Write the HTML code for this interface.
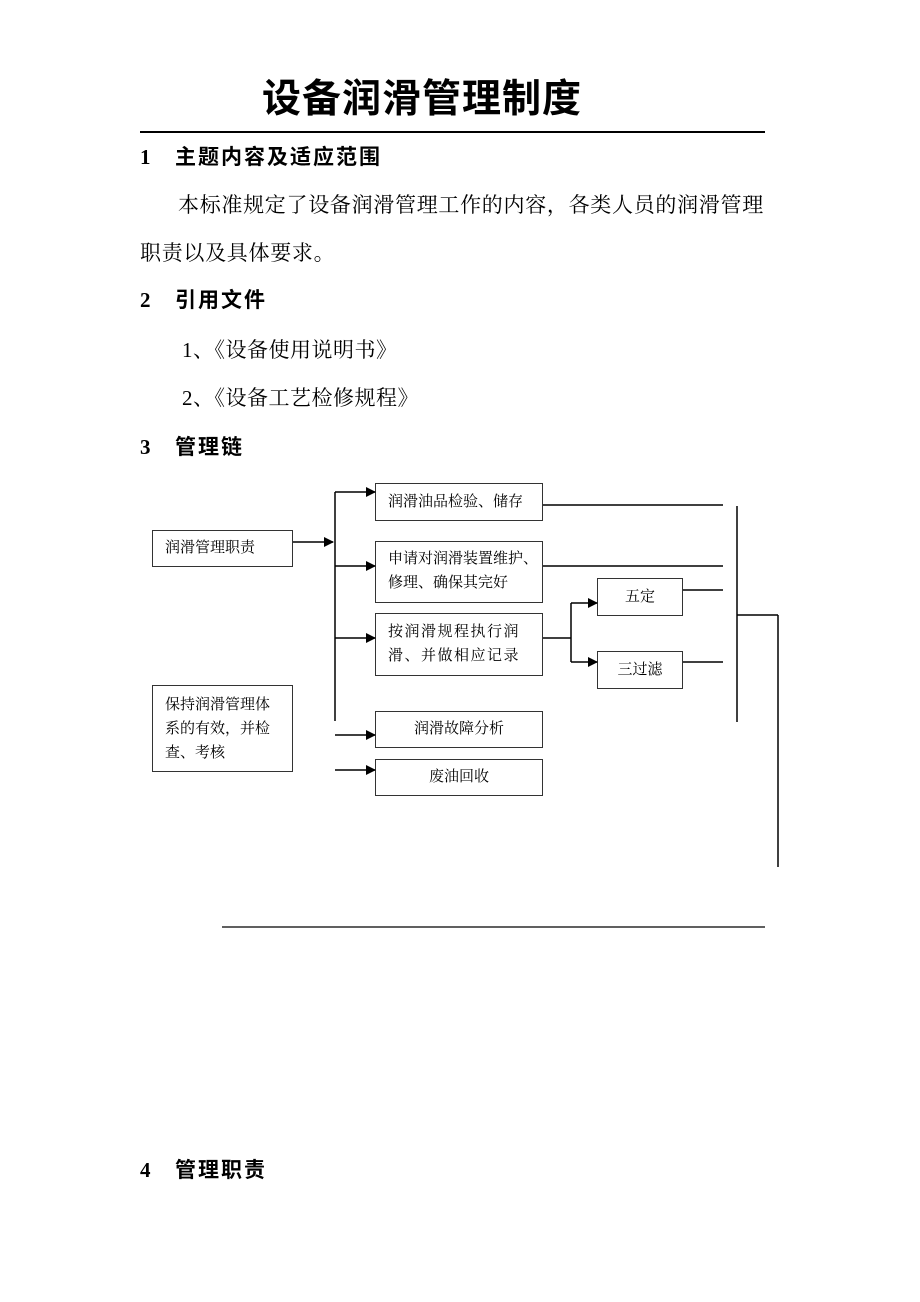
<!DOCTYPE html>
<html><head><meta charset="utf-8"><style>
body{margin:0;width:920px;height:1302px;background:#fff;position:relative;font-family:"Liberation Serif","Noto Serif CJK SC",serif;color:#000}
.t{position:absolute;white-space:nowrap;line-height:1}
.h{font-family:"Liberation Serif","Noto Sans CJK SC",sans-serif;font-weight:bold;font-size:21px;letter-spacing:2px}
.p{font-size:21px;letter-spacing:0.7px}
.b{position:absolute;border:1.3px solid #333;box-sizing:border-box;font-size:15px;line-height:24px;padding:0 12px;white-space:nowrap}
svg{position:absolute;left:0;top:0}
</style></head><body>
<div class="t" style="left:262px;top:77px;font-size:39px;font-weight:bold;letter-spacing:1px;font-family:'Noto Sans CJK SC',sans-serif">设备润滑管理制度</div>
<div style="position:absolute;left:140px;top:131px;width:625px;height:2px;background:#000"></div>
<div class="t h" style="left:140px;top:147px"><span style="display:inline-block;width:35px">1</span>主题内容及适应范围</div>
<div class="t p" style="left:178px;top:195px">本标准规定了设备润滑管理工作的内容，各类人员的润滑管理</div>
<div class="t p" style="left:140px;top:243px">职责以及具体要求。</div>
<div class="t h" style="left:140px;top:290px"><span style="display:inline-block;width:35px">2</span>引用文件</div>
<div class="t p" style="left:182px;top:340px;letter-spacing:0.5px">1、《设备使用说明书》</div>
<div class="t p" style="left:182px;top:388px;letter-spacing:0.5px">2、《设备工艺检修规程》</div>
<div class="t h" style="left:140px;top:437px"><span style="display:inline-block;width:35px">3</span>管理链</div>

<div class="b" style="left:375px;top:483px;width:168px;height:38px;line-height:36px">润滑油品检验、储存</div>
<div class="b" style="left:152px;top:530px;width:141px;height:37px;line-height:35px">润滑管理职责</div>
<div class="b" style="left:375px;top:541px;width:168px;height:62px;padding-top:5px">申请对润滑装置维护、<br>修理、确保其完好</div>
<div class="b" style="left:597px;top:578px;width:86px;height:38px;line-height:36px;text-align:center;padding:0">五定</div>
<div class="b" style="left:375px;top:613px;width:168px;height:63px;padding-top:6px;letter-spacing:1.5px">按润滑规程执行润<br>滑、并做相应记录</div>
<div class="b" style="left:597px;top:651px;width:86px;height:38px;line-height:36px;text-align:center;padding:0">三过滤</div>
<div class="b" style="left:152px;top:685px;width:141px;height:87px;padding-top:7px">保持润滑管理体<br>系的有效，并检<br>查、考核</div>
<div class="b" style="left:375px;top:711px;width:168px;height:37px;line-height:35px;text-align:center">润滑故障分析</div>
<div class="b" style="left:375px;top:759px;width:168px;height:37px;line-height:35px;text-align:center">废油回收</div>

<svg width="920" height="1302">
<defs><marker id="a" markerWidth="10" markerHeight="10" refX="9" refY="5" orient="auto" markerUnits="userSpaceOnUse"><path d="M0,0L10,5L0,10z" fill="#000"/></marker></defs>
<g stroke="#000" stroke-width="1.5" fill="none">
<line x1="293" y1="542" x2="333" y2="542" marker-end="url(#a)"/>
<line x1="335" y1="492" x2="335" y2="721"/>
<line x1="335" y1="492" x2="375" y2="492" marker-end="url(#a)"/>
<line x1="335" y1="566" x2="375" y2="566" marker-end="url(#a)"/>
<line x1="335" y1="638" x2="375" y2="638" marker-end="url(#a)"/>
<line x1="335" y1="735" x2="375" y2="735" marker-end="url(#a)"/>
<line x1="335" y1="770" x2="375" y2="770" marker-end="url(#a)"/>
<line x1="543" y1="638" x2="571" y2="638"/>
<line x1="571" y1="603" x2="571" y2="662"/>
<line x1="571" y1="603" x2="597" y2="603" marker-end="url(#a)"/>
<line x1="571" y1="662" x2="597" y2="662" marker-end="url(#a)"/>
<line x1="543" y1="505" x2="723" y2="505"/>
<line x1="543" y1="566" x2="723" y2="566"/>
<line x1="683" y1="590" x2="723" y2="590"/>
<line x1="683" y1="662" x2="723" y2="662"/>
<line x1="737" y1="506" x2="737" y2="722"/>
<line x1="737" y1="615" x2="778" y2="615"/>
<line x1="778" y1="615" x2="778" y2="867"/>
<line x1="222" y1="927" x2="765" y2="927" stroke-width="1.2"/>
</g></svg>
<div class="t h" style="left:140px;top:1160px"><span style="display:inline-block;width:35px">4</span>管理职责</div>
</body></html>
